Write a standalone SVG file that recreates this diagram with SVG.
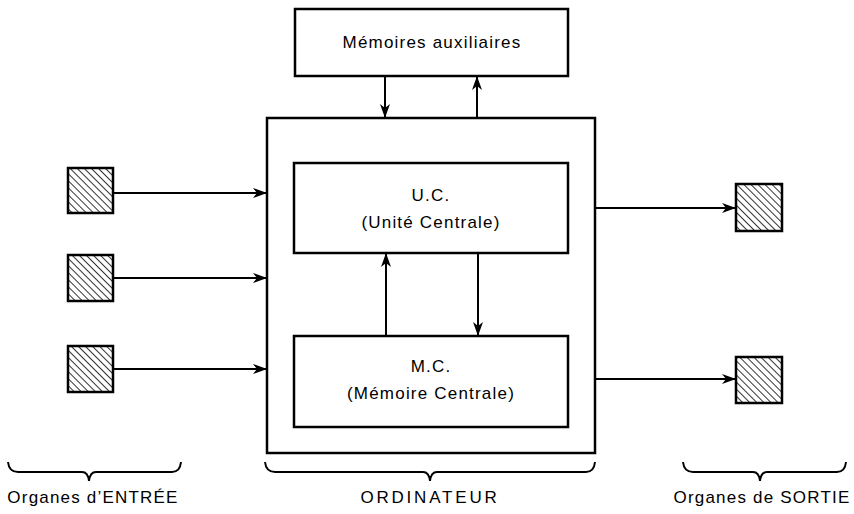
<svg xmlns="http://www.w3.org/2000/svg" width="854" height="514" viewBox="0 0 854 514">
<defs>
<pattern id="hatch" patternUnits="userSpaceOnUse" width="5" height="5" patternTransform="rotate(-45)">
<line x1="0" y1="0" x2="0" y2="5" stroke="#000" stroke-width="1.6"/>
</pattern>
<marker id="arr" viewBox="0 0 14 10" refX="13" refY="5" markerWidth="14" markerHeight="10" markerUnits="userSpaceOnUse" orient="auto">
<path d="M0,0 L14,5 L0,10 L4,5 z" fill="#000"/>
</marker>
</defs>
<style>
.box{fill:#fff;stroke:#000;stroke-width:2.5}
.sq{fill:url(#hatch);stroke:#000;stroke-width:2.5}
.sqbg{fill:#fff;stroke:none}
.t{font-family:"Liberation Sans",Arial,sans-serif;font-size:17px;fill:#000;text-anchor:middle;letter-spacing:1.2px}
.c{fill:none;stroke:#000;stroke-width:2;marker-end:url(#arr)}
.br{fill:none;stroke:#000;stroke-width:2}
</style>
<rect width="854" height="514" fill="#fff"/>
<g id="ordinateur">
<rect class="box" x="267" y="118" width="328" height="335"/>
</g>
<g id="aux">
<rect class="box" x="295" y="9" width="273" height="67"/>
<text class="t" x="432" y="48">Mémoires auxiliaires</text>
</g>
<g id="uc">
<rect class="box" x="294" y="163" width="274" height="90"/>
<text class="t" x="431" y="201">U.C.</text>
<text class="t" x="431" y="228">(Unité Centrale)</text>
</g>
<g id="mc">
<rect class="box" x="294" y="336" width="274" height="91"/>
<text class="t" x="431" y="372">M.C.</text>
<text class="t" x="431" y="399">(Mémoire Centrale)</text>
</g>
<g id="in1"><rect class="sqbg" x="68" y="168" width="45" height="45"/><rect class="sq" x="68" y="168" width="45" height="45"/></g>
<g id="in2"><rect class="sqbg" x="68" y="255" width="45" height="46"/><rect class="sq" x="68" y="255" width="45" height="46"/></g>
<g id="in3"><rect class="sqbg" x="68" y="346" width="45" height="46"/><rect class="sq" x="68" y="346" width="45" height="46"/></g>
<g id="out1"><rect class="sqbg" x="736" y="184" width="46" height="47"/><rect class="sq" x="736" y="184" width="46" height="47"/></g>
<g id="out2"><rect class="sqbg" x="736" y="357" width="46" height="46"/><rect class="sq" x="736" y="357" width="46" height="46"/></g>
<g id="connectors">
<line class="c" x1="385" y1="77" x2="385" y2="117"/>
<line class="c" x1="477" y1="117" x2="477" y2="77"/>
<line class="c" x1="386" y1="335" x2="386" y2="254"/>
<line class="c" x1="478" y1="254" x2="478" y2="335"/>
<line class="c" x1="114" y1="193" x2="266" y2="193"/>
<line class="c" x1="114" y1="278" x2="266" y2="278"/>
<line class="c" x1="114" y1="369" x2="266" y2="369"/>
<line class="c" x1="596" y1="208" x2="735" y2="208"/>
<line class="c" x1="596" y1="379" x2="735" y2="379"/>
</g>
<g id="braces">
<path class="br" d="M8,462 Q9,472 18,472 L82,472 Q88,472 89,481 Q90,472 96,472 L172,472 Q180,472 181,462"/>
<path class="br" d="M265,462 Q266,472 275,472 L423,472 Q429,472 430,481 Q431,472 437,472 L586,472 Q594,472 595,462"/>
<path class="br" d="M683,462 Q684,472 693,472 L753,472 Q759,472 760,481 Q761,472 767,472 L837,472 Q845,472 846,462"/>
</g>
<g id="labels">
<text class="t" x="93" y="503">Organes d’ENTRÉE</text>
<text class="t" x="430" y="503" style="letter-spacing:2.8px">ORDINATEUR</text>
<text class="t" x="762" y="503">Organes de SORTIE</text>
</g>
</svg>
